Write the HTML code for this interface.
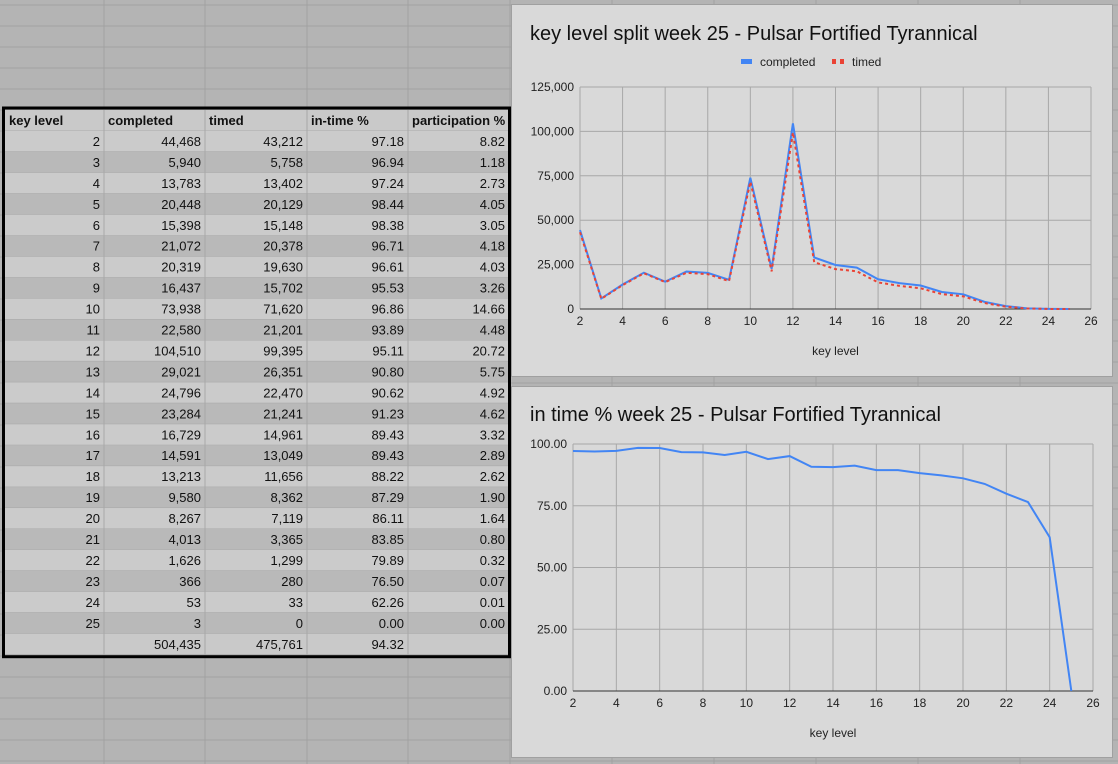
<!DOCTYPE html>
<html><head><meta charset="utf-8"><style>
body{margin:0;width:1118px;height:764px;overflow:hidden;background:#b4b4b4;font-family:"Liberation Sans",Arial,sans-serif}
svg{position:absolute;left:0;top:0}
</style></head><body>
<svg id="s" width="1118" height="764" xmlns="http://www.w3.org/2000/svg" font-family="Liberation Sans, Arial, sans-serif"></svg>
<script>
const d=[[2,44468,43212,"97.18","8.82"],[3,5940,5758,"96.94","1.18"],[4,13783,13402,"97.24","2.73"],[5,20448,20129,"98.44","4.05"],[6,15398,15148,"98.38","3.05"],[7,21072,20378,"96.71","4.18"],[8,20319,19630,"96.61","4.03"],[9,16437,15702,"95.53","3.26"],[10,73938,71620,"96.86","14.66"],[11,22580,21201,"93.89","4.48"],[12,104510,99395,"95.11","20.72"],[13,29021,26351,"90.80","5.75"],[14,24796,22470,"90.62","4.92"],[15,23284,21241,"91.23","4.62"],[16,16729,14961,"89.43","3.32"],[17,14591,13049,"89.43","2.89"],[18,13213,11656,"88.22","2.62"],[19,9580,8362,"87.29","1.90"],[20,8267,7119,"86.11","1.64"],[21,4013,3365,"83.85","0.80"],[22,1626,1299,"79.89","0.32"],[23,366,280,"76.50","0.07"],[24,53,33,"62.26","0.01"],[25,3,0,"0.00","0.00"]];
const f=n=>n.toLocaleString('en-US');
let h='';
const cols=[104,205,307,408,510,612,714,816,918,1020];
for(const x of cols)h+=`<line x1="${x}" y1="0" x2="${x}" y2="764" stroke="#a2a2a2"/>`;
for(let y=5;y<764;y+=21)h+=`<line x1="0" y1="${y}" x2="1118" y2="${y}" stroke="#a2a2a2"/>`;
const T=110,R=20.95,N=26;
h+=`<rect x="4" y="${T}" width="505" height="${R*N}" fill="#c9c9c9"/>`;
for(let i=0;i<N;i++){const y=T+i*R;
 h+=`<rect x="4" y="${y}" width="505" height="${R}" fill="${(i==0||i==N-1)?'#c9c9c9':(i%2==1?'#cbcbcb':'#b9b9b9')}"/>`;
 h+=`<line x1="4" y1="${y+R}" x2="509" y2="${y+R}" stroke="#a8a8a8"/>`;}
for(const x of [104,205,307,408])h+=`<line x1="${x}" y1="${T}" x2="${x}" y2="${T+R*N}" stroke="#a8a8a8"/>`;
const hd=["key level","completed","timed","in-time %","participation %"],hx=[9,108,209,311,412];
hd.forEach((t,i)=>h+=`<text x="${hx[i]}" y="${T+15}" font-size="13" font-weight="bold" fill="#111">${t}</text>`);
const rx=[100,201,303,404,505];
d.forEach((r,i)=>{const y=T+(i+1)*R+15;[r[0],f(r[1]),f(r[2]),r[3],r[4]].forEach((v,j)=>h+=`<text x="${rx[j]}" y="${y}" font-size="13" text-anchor="end" fill="#111">${v}</text>`)});
{const y=T+25*R+15;[["504,435",1],["475,761",2],["94.32",3]].forEach(([v,j])=>h+=`<text x="${rx[j]}" y="${y}" font-size="13" text-anchor="end" fill="#111">${v}</text>`)}
h+=`<rect x="3.5" y="${T-2}" width="506" height="${R*N+4}" fill="none" stroke="#000" stroke-width="3"/>`;
h+=`<rect x="511.5" y="4.5" width="601" height="372" fill="#d9d9d9" stroke="#a0a0a0"/>`;
h+=`<rect x="511.5" y="386.5" width="601" height="371" fill="#d9d9d9" stroke="#a0a0a0"/>`;
h+=`<text x="530" y="40" font-size="20" fill="#111">key level split week 25 - Pulsar Fortified Tyrannical</text>`;
h+=`<text x="530" y="421" font-size="20" fill="#111">in time % week 25 - Pulsar Fortified Tyrannical</text>`;
h+=`<rect x="741" y="59" width="11" height="5" fill="#4285f4"/><text x="760" y="66" font-size="12" fill="#222">completed</text>`;
h+=`<rect x="832" y="59" width="4" height="5" fill="#ea4335"/><rect x="840" y="59" width="4" height="5" fill="#ea4335"/><text x="852" y="66" font-size="12" fill="#222">timed</text>`;
function chart(x0,x1,y0,y1,ymax,ystep,lab,series,xlabY){
 const X=k=>x0+(k-2)*(x1-x0)/24, Y=v=>y0-(v/ymax)*(y0-y1);
 for(let k=2;k<=26;k+=2)h+=`<line x1="${X(k)}" y1="${y1}" x2="${X(k)}" y2="${y0}" stroke="#a8a8a8"/><text x="${X(k)}" y="${y0+16}" font-size="12" text-anchor="middle" fill="#222">${k}</text>`;
 for(let v=0;v<=ymax;v+=ystep)h+=`<line x1="${x0}" y1="${Y(v)}" x2="${x1}" y2="${Y(v)}" stroke="${v==0?'#333':'#a8a8a8'}"/><text x="${x0-6}" y="${Y(v)+4}" font-size="12" text-anchor="end" fill="#222">${lab(v)}</text>`;
 h+=`<text x="${(x0+x1)/2}" y="${xlabY}" font-size="12" text-anchor="middle" fill="#222">key level</text>`;
 for(const s of series){h+=`<polyline fill="none" stroke="${s.c}" stroke-width="2" ${s.dash?'stroke-dasharray="3,3"':''} points="${d.map(r=>X(r[0])+','+Y(s.v(r))).join(' ')}"/>`;}
}
chart(580,1091,309,87,125000,25000,v=>f(v),[{c:"#4285f4",v:r=>r[1]},{c:"#ea4335",v:r=>r[2],dash:1}],355);
chart(573,1093,691,444,100,25,v=>v.toFixed(2),[{c:"#4285f4",v:r=>+r[3]}],737);
document.getElementById('s').innerHTML=h;
</script>
</body></html>
